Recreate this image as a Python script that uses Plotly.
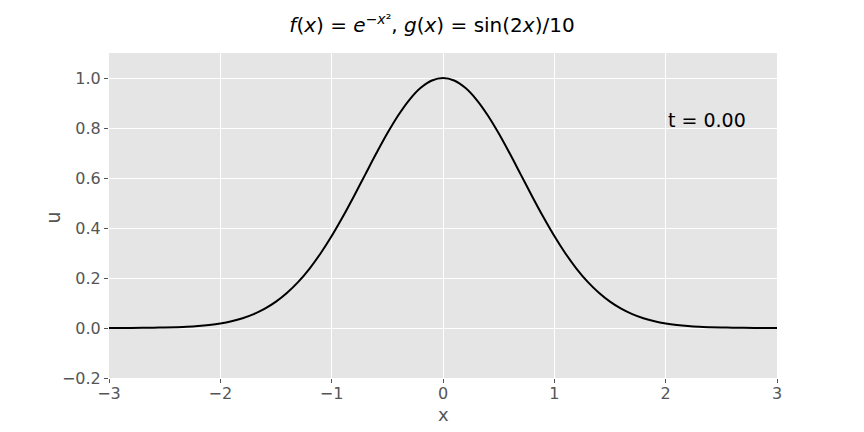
import plotly.graph_objects as go

x_vals = [-3.0, -2.9, -2.8, -2.7, -2.6, -2.5, -2.4, -2.3, -2.2, -2.1,
          -2.0, -1.9, -1.8, -1.7, -1.6, -1.5, -1.4, -1.3, -1.2, -1.1,
          -1.0, -0.9, -0.8, -0.7, -0.6, -0.5, -0.4, -0.3, -0.2, -0.1,
          0.0, 0.1, 0.2, 0.3, 0.4, 0.5, 0.6, 0.7, 0.8, 0.9,
          1.0, 1.1, 1.2, 1.3, 1.4, 1.5, 1.6, 1.7, 1.8, 1.9,
          2.0, 2.1, 2.2, 2.3, 2.4, 2.5, 2.6, 2.7, 2.8, 2.9, 3.0]
u_vals = [0.0001, 0.0002, 0.0004, 0.0007, 0.0012, 0.0019, 0.0032, 0.0050, 0.0079, 0.0122,
          0.0183, 0.0271, 0.0392, 0.0556, 0.0773, 0.1054, 0.1409, 0.1845, 0.2369, 0.2982,
          0.3679, 0.4449, 0.5273, 0.6126, 0.6977, 0.7788, 0.8521, 0.9139, 0.9608, 0.9900,
          1.0000, 0.9900, 0.9608, 0.9139, 0.8521, 0.7788, 0.6977, 0.6126, 0.5273, 0.4449,
          0.3679, 0.2982, 0.2369, 0.1845, 0.1409, 0.1054, 0.0773, 0.0556, 0.0392, 0.0271,
          0.0183, 0.0122, 0.0079, 0.0050, 0.0032, 0.0019, 0.0012, 0.0007, 0.0004, 0.0002, 0.0001]
x_ticks = [-3, -2, -1, 0, 1, 2, 3]
y_ticks = [-0.2, 0.0, 0.2, 0.4, 0.6, 0.8, 1.0]
time_label = "t = 0.00"
x_title = "x"
y_title = "u"
title_text = ("<i>f</i>(<i>x</i>) = <i>e</i><sup>−<i>x</i>²</sup>, "
              "<i>g</i>(<i>x</i>) = sin(2<i>x</i>)/10")

font_family = "DejaVu Sans"
tick_color = "#555555"

fig = go.Figure()
fig.add_trace(go.Scatter(x=x_vals, y=u_vals, mode="lines",
                         line=dict(color="black", width=2, shape="spline"),
                         showlegend=False, hoverinfo="skip"))

fig.add_annotation(x=2.0, y=0.8, xref="x", yref="y", text=time_label,
                   showarrow=False, xanchor="left", yanchor="bottom", yshift=-5,
                   font=dict(family=font_family, size=19, color="black"))

# axis titles
fig.add_annotation(x=0.5, y=0, xref="paper", yref="paper", text=x_title,
                   showarrow=False, xanchor="center", yanchor="middle", yshift=-36,
                   font=dict(family=font_family, size=18, color=tick_color))
fig.add_annotation(x=0, y=0.5, xref="paper", yref="paper", text=y_title,
                   showarrow=False, xanchor="center", yanchor="middle", xshift=-57,
                   yshift=-2, textangle=-90,
                   font=dict(family=font_family, size=19, color=tick_color))

fig.update_layout(
    width=864, height=432,
    margin=dict(l=109, r=87, t=53, b=54),
    paper_bgcolor="white", plot_bgcolor="#E5E5E5",
    font=dict(family=font_family, size=16, color=tick_color),
    title=dict(text=title_text, x=0.5, xref="container", xanchor="center",
               y=1 - 25 / 432, yref="container", yanchor="middle",
               font=dict(family=font_family, size=20, color="black")),
    xaxis=dict(range=[-3, 3], tickvals=x_ticks, showgrid=True, gridcolor="white",
               gridwidth=1, zeroline=False, showline=False, ticks="outside",
               ticklen=4, tickcolor=tick_color, tickfont=dict(size=16, color=tick_color),
               automargin=False, ticklabelstandoff=-3),
    yaxis=dict(range=[-0.2, 1.1], tickvals=y_ticks, tickformat=".1f", showgrid=True,
               gridcolor="white", gridwidth=1, zeroline=False, showline=False,
               ticks="outside", ticklen=4, tickcolor=tick_color,
               tickfont=dict(size=16, color=tick_color), automargin=False),
)

fig.write_html("out.html", config={"displayModeBar": False},
               post_script="document.body.style.margin='0';document.body.style.overflow='hidden';")
